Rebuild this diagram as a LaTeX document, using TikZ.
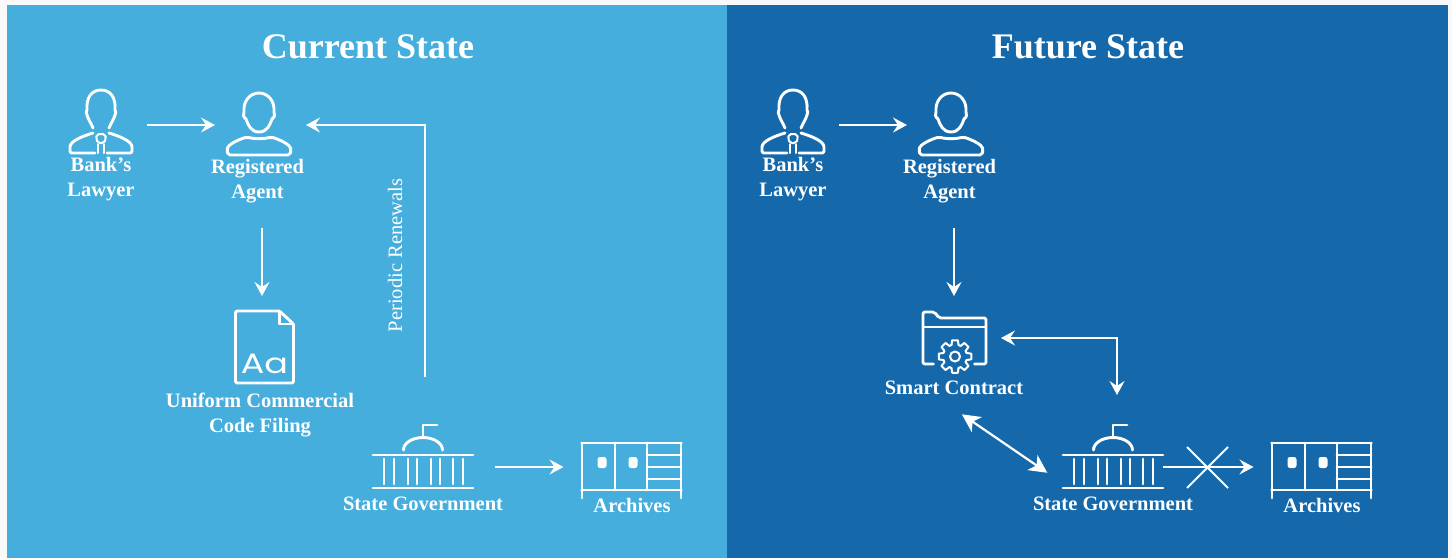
\documentclass[tikz,border=0pt]{standalone}
\usepackage{fontspec}
\setmainfont{Liberation Serif}
\newfontfamily\iconfont{Poppins}
\usetikzlibrary{arrows.meta,shapes.misc}
\definecolor{panelA}{HTML}{45AEDD}
\definecolor{panelB}{HTML}{1569AB}
\definecolor{pagebg}{HTML}{F9F9F9}
\tikzset{
    iconbox/.style 2 args={minimum width=#1, minimum height=#2, inner sep=0pt, outer sep=0pt},
    heading/.style={text=white, font=\fontsize{36}{40}\selectfont\bfseries},
    caption/.style={text=white, align=center, inner sep=0pt, font=\fontsize{20.5}{25}\selectfont\bfseries},
    sidenote/.style={text=white, rotate=90, inner sep=0pt, font=\fontsize{20.5}{23}\selectfont},
    arrowline/.style={draw=white, line width=1.8pt, -{Stealth[length=14pt,width=15pt,inset=5pt]}},
    bothline/.style={draw=white, line width=1.8pt, {Stealth[length=14pt,width=15pt,inset=5pt]}-{Stealth[length=14pt,width=15pt,inset=5pt]}},
    bigline/.style={draw=white, line width=2.2pt, {Stealth[length=18pt,width=18pt,inset=5pt]}-{Stealth[length=18pt,width=18pt,inset=5pt]}},
    icon/.style={draw=white, line width=2.9pt, line cap=round, line join=round},
    lawyer/.pic={
        \draw[icon] (-8,3) .. controls (-10,-2) and (-13,-6) .. (-14,-10)
            .. controls (-15,-12) and (-15,-14) .. (-14,-15)
            .. controls (-15,-28) and (-9,-35) .. (0,-35)
            .. controls (9,-35) and (15,-28) .. (14,-15)
            .. controls (15,-14) and (15,-12) .. (14,-10)
            .. controls (13,-6) and (10,-2) .. (8,3);
        \draw[icon, rounded corners=2pt] (-8,8) .. controls (-18,11) and (-31,16) .. (-31,24) -- (-31,28) -- (-6,28);
        \draw[icon, rounded corners=2pt] (8,8) .. controls (18,11) and (31,16) .. (31,24) -- (31,28) -- (6,28);
        \draw[icon, line width=2pt, rounded corners=2pt] (-3,18) -- (-5,14) -- (-4,9) -- (4,9) -- (5,14) -- (3,18) -- cycle;
        \draw[icon, line width=2pt] (-3,19) -- (-3,28) (3,19) -- (3,28);
    },
    agent/.pic={
        \draw[icon] (0,7) .. controls (-8,7) and (-11,0) .. (-13,-6)
            .. controls (-16,-8) and (-16,-11) .. (-15,-13)
            .. controls (-16,-24) and (-9,-32) .. (0,-32)
            .. controls (9,-32) and (16,-24) .. (15,-13)
            .. controls (16,-11) and (16,-8) .. (13,-6)
            .. controls (11,0) and (8,7) .. (0,7);
        \draw[icon, rounded corners=2pt] (-31,30) -- (31,30) -- (32,25) .. controls (31,20) and (22,15) .. (12,12)
            .. controls (5,14) and (-5,14) .. (-12,12)
            .. controls (-22,15) and (-31,20) .. (-32,25) -- cycle;
    },
    filing/.pic={
        \draw[icon, rounded corners=1.5pt] (-29,-36) -- (15,-36) -- (29,-23) -- (29,36) -- (-29,36) -- cycle;
        \draw[icon] (15,-36) -- (15,-23) -- (29,-23);
        \node[text=white, inner sep=0pt, xscale=1.25, font=\fontsize{28}{30}\selectfont\iconfont] (aaFont) at (0,17) {Aa};
    },
    capitol/.pic={
        \draw[icon] (0,-18) -- (0,-31) -- (14,-31);
        \draw[icon] (-19.5,-6) arc[start angle=180, end angle=360, x radius=19.5, y radius=12.5];
        \draw[icon] (-50,-1) -- (50,-1) (-50,32) -- (50,32);
        \foreach \colx in {-39,-29,-15,-6,8,17,30,40}{
            \draw[icon] (\colx,3) -- (\colx,28);
        }
    },
    cabinet/.pic={
        \draw[icon] (-50,-27) -- (50,-27);
        \draw[icon] (-49.5,-27) -- (-49.5,28) (49.5,-27) -- (49.5,28);
        \draw[icon] (-16.5,-27) -- (-16.5,20) (15.5,-27) -- (15.5,20);
        \draw[icon] (-50,20) -- (50,20);
        \foreach \shelfy in {-15,-3,9}{
            \draw[icon] (15.5,\shelfy) -- (49.5,\shelfy);
        }
        \fill[white, rounded corners=2.5pt] (-34,-13) rectangle (-25,-2);
        \fill[white, rounded corners=2.5pt] (-3,-13) rectangle (6,-2);
    },
    folder/.pic={
        \draw[icon, rounded corners=2pt] (-21,26) -- (-31.5,26) -- (-31.5,-26) -- (-20,-26) -- (-15.5,-20) -- (31.5,-20) -- (31.5,26) -- (20,26);
        \draw[icon, line width=2pt] (-31.5,-11) -- (31.5,-11);
        \begin{scope}[shift={(0.5,18.5)}]
            \draw[icon, line width=2pt] (0,0) circle[radius=5];
            \foreach \a in {0,45,...,315}{
                \draw[icon, line width=2pt] (\a-17:12) -- (\a-10:16.5) -- (\a+10:16.5) -- (\a+17:12) arc[start angle=\a+17, end angle=\a+28, radius=12];
            }
        \end{scope}
    }
}
\begin{document}
\begin{tikzpicture}[x=1pt,y=-1pt]
	\useasboundingbox (0,0) rectangle (1452,558);
	\fill[pagebg] (0,0) rectangle (1452,558);
	\fill[panelA] (7,5) rectangle (727,558);
	\fill[panelB] (727,5) rectangle (1448,558);

	\node[heading] (titleA) at (368,47) {Current State};
	\node[heading] (titleB) at (1088,47) {Future State};

	\node[iconbox={64}{70}] (lawyerA) at (101,125) {};
	\node[iconbox={66}{70}] (agentA) at (259,125) {};
	\node[iconbox={59}{72}] (filingA) at (264.5,347) {};
	\node[iconbox={100}{64}] (govA) at (423,456) {};
	\node[iconbox={102}{62}] (archA) at (631.5,467) {};
	\pic at (lawyerA) {lawyer};
	\pic at (agentA) {agent};
	\pic at (filingA) {filing};
	\pic at (govA) {capitol};
	\pic at (631.5,470) {cabinet};

	\node[caption] (lawyerTextA) at (101,179.5) {Bank's\\Lawyer};
	\node[caption] (agentTextA) at (257.5,181.5) {Registered\\Agent};
	\node[caption] (filingTextA) at (260,415.5) {Uniform Commercial\\Code Filing};
	\node[caption] (govTextA) at (423,504) {State Government};
	\node[caption] (archTextA) at (632,505) {Archives};
	\node[sidenote] (renewalA) at (395,255.5) {Periodic Renewals};

	\draw[arrowline, shorten <=24pt, shorten >=15pt] ([xshift=4.5pt]agentTextA.south) -- ([xshift=-2.5pt]filingA.north);
	\draw[arrowline, shorten <=14pt, shorten >=11pt] (lawyerA) -- (agentA);
	\draw[arrowline, shorten <=47pt, shorten >=14pt] ([xshift=2pt]govA.north) |- (agentA.east);
	\draw[arrowline, shorten <=22pt, shorten >=17pt] (govA.east |- archA.west) -- (archA.west);

	\node[iconbox={64}{70}] (lawyerB) at (793,125) {};
	\node[iconbox={66}{70}] (agentB) at (951,125) {};
	\node[iconbox={63}{52}] (contractB) at (954.5,338) {};
	\node[iconbox={100}{64}] (govB) at (1113,456) {};
	\node[iconbox={102}{62}] (archB) at (1321.5,467) {};
	\pic at (lawyerB) {lawyer};
	\pic at (agentB) {agent};
	\pic at (contractB) {folder};
	\pic at (govB) {capitol};
	\pic at (1321.5,470) {cabinet};

	\node[caption] (lawyerTextB) at (793,179.5) {Bank's\\Lawyer};
	\node[caption] (agentTextB) at (949.5,181.5) {Registered\\Agent};
	\node[caption] (contractTextB) at (954,387.5) {Smart Contract};
	\node[caption] (govTextB) at (1113,504) {State Government};
	\node[caption] (archTextB) at (1322,505) {Archives};

	\draw[arrowline, shorten <=24pt, shorten >=16pt] ([xshift=4.5pt]agentTextB.south) -- ([xshift=-0.5pt]contractB.north);
	\draw[arrowline, shorten <=14pt, shorten >=11pt] (lawyerB) -- (agentB);
	\draw[bothline, shorten <=15pt, shorten >=29pt] (contractB.east) -| ([xshift=4pt]govB.north);
	\draw[bigline, shorten <=35pt, shorten >=19pt] ([xshift=-21pt]contractTextB.south) -- ([yshift=-27.5pt]govB.west);
	\draw[arrowline, shorten >=17pt] (govB.east |- archB.west) -- (archB.west);
	\node[cross out, draw=white, line width=2pt, minimum width=39pt, minimum height=39pt, inner sep=0pt] (cutB) at (1207.5,467.5) {};
\end{tikzpicture}
\end{document}
